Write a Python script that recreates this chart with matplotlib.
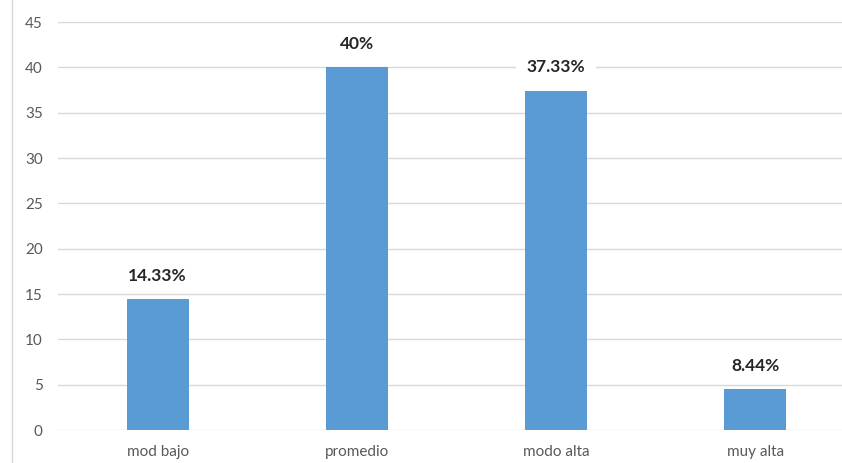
import matplotlib.pyplot as plt
from matplotlib.lines import Line2D

categories = ["mod bajo", "promedio", "modo alta", "muy alta"]
values = [14.4, 40, 37.4, 4.5]
labels = ["14.33%", "40%", "37.33%", "8.44%"]
yticks = [0, 5, 10, 15, 20, 25, 30, 35, 40, 45]

plt.rcParams["font.family"] = ["Lato", "DejaVu Sans"]

fig = plt.figure(figsize=(8.42, 4.63), dpi=100)
fig.patch.set_facecolor("white")
# axes run a bit past the right edge, like the cropped original
ax = fig.add_axes([58 / 842, 33 / 463, 797 / 842, 408 / 463])

x = range(len(categories))
ax.bar(x, values, width=0.31, color="#5B9BD5", zorder=3)

for xi, v, lab in zip(x, values, labels):
    box = None
    if lab == "37.33%":
        box = dict(boxstyle="square,pad=0.6", facecolor="white", edgecolor="none")
    ax.annotate(lab, (xi, v), xytext=(0, 17), textcoords="offset points",
                ha="center", va="center", fontsize=12.5, fontweight="bold",
                color="#262626", bbox=box, zorder=4)

ax.set_xlim(-0.5, 3.5)
ax.set_ylim(0, 45)
ax.set_yticks(yticks)
ax.set_xticks(list(x))
ax.set_xticklabels(categories)
ax.tick_params(axis="both", length=0, labelsize=11, labelcolor="#595959")
ax.tick_params(axis="y", pad=11)
ax.tick_params(axis="x", pad=11)
ax.grid(axis="y", color="#D9D9D9", linewidth=1, zorder=0)
for s in ax.spines.values():
    s.set_visible(False)

# light frame line on the left of the chart area
fig.add_artist(Line2D([12 / 842, 12 / 842], [0, 1], color="#D9D9D9",
                      linewidth=1, transform=fig.transFigure))

fig.savefig("out.png", dpi=100, facecolor="white")
